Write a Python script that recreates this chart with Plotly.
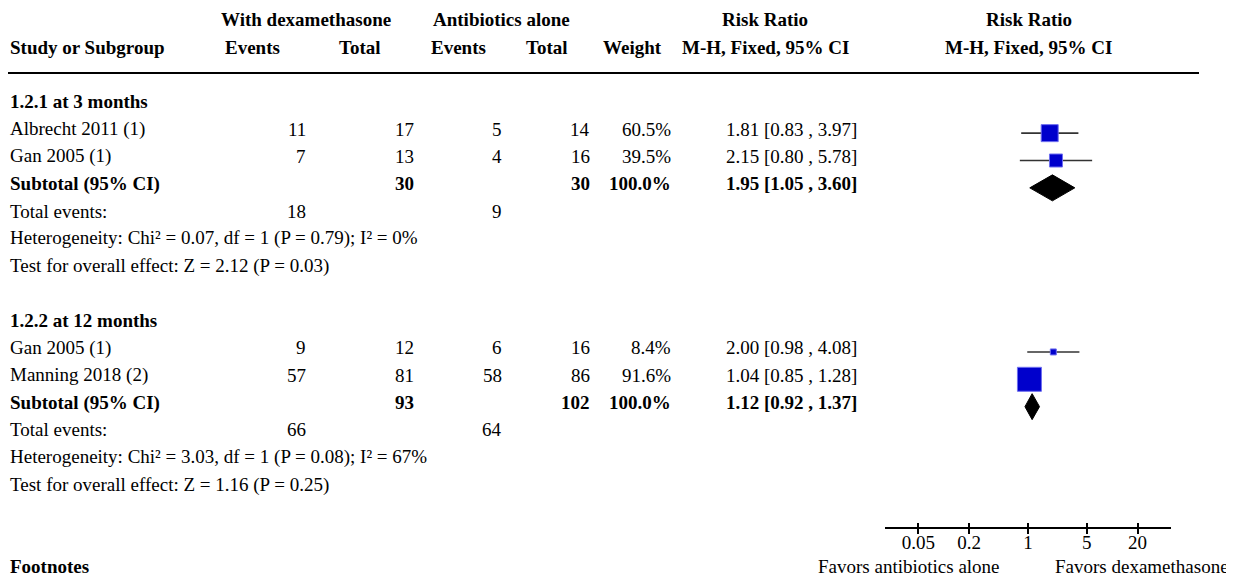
import math
import plotly.graph_objects as go

# ---------------- data ----------------
subgroups = ["1.2.1 at 3 months", "1.2.2 at 12 months"]
study_names = [["Albrecht 2011 (1)", "Gan 2005 (1)"], ["Gan 2005 (1)", "Manning 2018 (2)"]]
dex_events = [[11, 7], [9, 57]]
dex_total = [[17, 13], [12, 81]]
ab_events = [[5, 4], [6, 58]]
ab_total = [[14, 16], [16, 86]]
weights = [[60.5, 39.5], [8.4, 91.6]]
rr = [[1.81, 2.15], [2.00, 1.04]]
ci_lo = [[0.83, 0.80], [0.98, 0.85]]
ci_hi = [[3.97, 5.78], [4.08, 1.28]]

sub_dex_total = [30, 93]
sub_ab_total = [30, 102]
sub_dex_events = [18, 66]
sub_ab_events = [9, 64]
sub_weight = [100.0, 100.0]
sub_rr = [1.95, 1.12]
sub_lo = [1.05, 0.92]
sub_hi = [3.60, 1.37]
heterogeneity = ["Heterogeneity: Chi² = 0.07, df = 1 (P = 0.79); I² = 0%",
                 "Heterogeneity: Chi² = 3.03, df = 1 (P = 0.08); I² = 67%"]
overall = ["Test for overall effect: Z = 2.12 (P = 0.03)",
           "Test for overall effect: Z = 1.16 (P = 0.25)"]

tick_vals = [0.05, 0.2, 1, 5, 20]
tick_text = ["0.05", "0.2", "1", "5", "20"]
left_label = "Favors antibiotics alone"
right_label = "Favors dexamethasone"

# ---------------- style ----------------
OFF = 8                     # default page margin of the html body
VW, VH = 1234, 577          # viewport
W, H = VW - OFF, VH - OFF   # figure size so it fits exactly
FONT = "Liberation Serif"
FS = 19
ROW0_PX = 101.7             # viewport px of row 0
ROW_PX = 27.35
square_sizes = [[17, 13], [6, 24]]
BLUE = "rgb(0,0,204)"
MARK_OFF = 0.15  # marker offset below text centre, in rows


def px(x):
    """viewport x pixel -> paper fraction"""
    return (x - OFF) / W


def py(y):
    """viewport y pixel -> paper fraction"""
    return 1 - (y - OFF) / H


def row_of_px(y):
    return (y - ROW0_PX) / ROW_PX


fig = go.Figure()
ann = []


def txt(x, row, s, anchor="right", bold=False):
    if bold:
        s = "<b>" + s + "</b>"
    ann.append(dict(x=px(x), y=row, xref="paper", yref="y", text=s, showarrow=False,
                    xanchor=anchor, yanchor="middle", borderpad=0, borderwidth=0,
                    font=dict(family=FONT, size=FS, color="black")))


# column positions (viewport px)
C_STUDY = 10
C_DE, C_DT, C_AE, C_AT, C_W, C_CI = 306, 414, 502, 590, 671, 857

# headers
txt(306, -3, "With dexamethasone", "center", True)
txt(502, -3, "Antibiotics alone", "center", True)
txt(765, -3, "Risk Ratio", "center", True)
txt(1029, -3, "Risk Ratio", "center", True)
txt(C_STUDY, -2, "Study or Subgroup", "left", True)
txt(252, -2, "Events", "center", True)
txt(360, -2, "Total", "center", True)
txt(458, -2, "Events", "center", True)
txt(547, -2, "Total", "center", True)
txt(632, -2, "Weight", "center", True)
txt(765, -2, "M-H, Fixed, 95% CI", "center", True)
txt(1028, -2, "M-H, Fixed, 95% CI", "center", True)


def fmt_ci(a, b, c):
    return f"{a:.2f} [{b:.2f} , {c:.2f}]"


for g in range(len(subgroups)):
    base = g * 8
    txt(C_STUDY, base, subgroups[g], "left", True)
    for i in range(len(study_names[g])):
        r = base + 1 + i
        txt(C_STUDY, r, study_names[g][i], "left")
        txt(C_DE, r, str(dex_events[g][i]))
        txt(C_DT, r, str(dex_total[g][i]))
        txt(C_AE, r, str(ab_events[g][i]))
        txt(C_AT, r, str(ab_total[g][i]))
        txt(C_W, r, f"{weights[g][i]:.1f}%")
        txt(C_CI, r, fmt_ci(rr[g][i], ci_lo[g][i], ci_hi[g][i]))
        y = r + MARK_OFF
        fig.add_trace(go.Scatter(x=[ci_lo[g][i], ci_hi[g][i]], y=[y, y], mode="lines",
                                 line=dict(color="#333333", width=1.6), hoverinfo="skip",
                                 showlegend=False))
        fig.add_trace(go.Scatter(x=[rr[g][i]], y=[y], mode="markers",
                                 marker=dict(symbol="square", size=square_sizes[g][i], color=BLUE,
                                             line=dict(color="rgb(110,110,240)", width=1)),
                                 hoverinfo="skip", showlegend=False))
    rs = base + 3
    txt(C_STUDY, rs, "Subtotal (95% CI)", "left", True)
    txt(C_DT, rs, str(sub_dex_total[g]), bold=True)
    txt(C_AT, rs, str(sub_ab_total[g]), bold=True)
    txt(C_W, rs, f"{sub_weight[g]:.1f}%", bold=True)
    txt(C_CI, rs, fmt_ci(sub_rr[g], sub_lo[g], sub_hi[g]), bold=True)
    y = rs + MARK_OFF
    h = 0.475
    fig.add_trace(go.Scatter(x=[sub_lo[g], sub_rr[g], sub_hi[g], sub_rr[g], sub_lo[g]],
                             y=[y, y - h, y, y + h, y], mode="lines", fill="toself",
                             fillcolor="black", line=dict(color="black", width=1),
                             hoverinfo="skip", showlegend=False))
    txt(C_STUDY, base + 4, "Total events:", "left")
    txt(C_DE, base + 4, str(sub_dex_events[g]))
    txt(C_AE, base + 4, str(sub_ab_events[g]))
    txt(C_STUDY, base + 5, heterogeneity[g], "left")
    txt(C_STUDY, base + 6, overall[g], "left")

txt(C_STUDY, row_of_px(566), "Footnotes", "left", True)

# favours labels
AXIS_PX = 528
for x, s, anc in [(1000, left_label, "right"), (1055, right_label, "left")]:
    ann.append(dict(x=px(x), y=py(566), xref="paper", yref="paper", text=s,
                    showarrow=False, xanchor=anc, yanchor="middle", borderpad=0, borderwidth=0,
                    font=dict(family=FONT, size=FS, color="black")))

shapes = [
    dict(type="line", xref="paper", yref="paper", x0=px(8), x1=px(1199), y0=py(73), y1=py(73),
         line=dict(color="black", width=2)),
    dict(type="line", xref="x", yref="paper", x0=math.log10(1), x1=math.log10(1),
         y0=py(73), y1=py(AXIS_PX), line=dict(color="black", width=1.5)),
]

xr = [math.log10(0.02), math.log10(50)]
dom = [px(885), px(1171)]
axpos = py(AXIS_PX)

fig.update_layout(
    width=W, height=H,
    margin=dict(l=0, r=0, t=0, b=0),
    paper_bgcolor="white", plot_bgcolor="white",
    showlegend=False,
    annotations=ann, shapes=shapes,
    xaxis=dict(type="log", range=xr, domain=dom, anchor="free", position=axpos,
               showline=True, linecolor="black", linewidth=1.5,
               ticks="outside", ticklen=5, tickwidth=1.5, tickcolor="black",
               tickvals=tick_vals, ticktext=tick_text, ticklabelstandoff=-8,
               tickfont=dict(family=FONT, size=FS, color="black"),
               showgrid=False, zeroline=False, fixedrange=True),
    xaxis2=dict(type="log", range=xr, domain=dom, anchor="free", position=axpos,
                overlaying="x", ticks="inside", ticklen=5, tickwidth=1.5, tickcolor="black",
                tickvals=tick_vals, showticklabels=False, showline=False,
                showgrid=False, zeroline=False, fixedrange=True),
    yaxis=dict(range=[row_of_px(VH), row_of_px(OFF)], domain=[0, 1], visible=False,
               showgrid=False, zeroline=False, fixedrange=True),
)
# invisible trace so that the second (inside-tick) axis is drawn
fig.add_trace(go.Scatter(x=[1], y=[row_of_px(VH) + 5], xaxis="x2", mode="markers",
                         marker=dict(opacity=0), hoverinfo="skip", showlegend=False))

fig.write_html("out.html")
